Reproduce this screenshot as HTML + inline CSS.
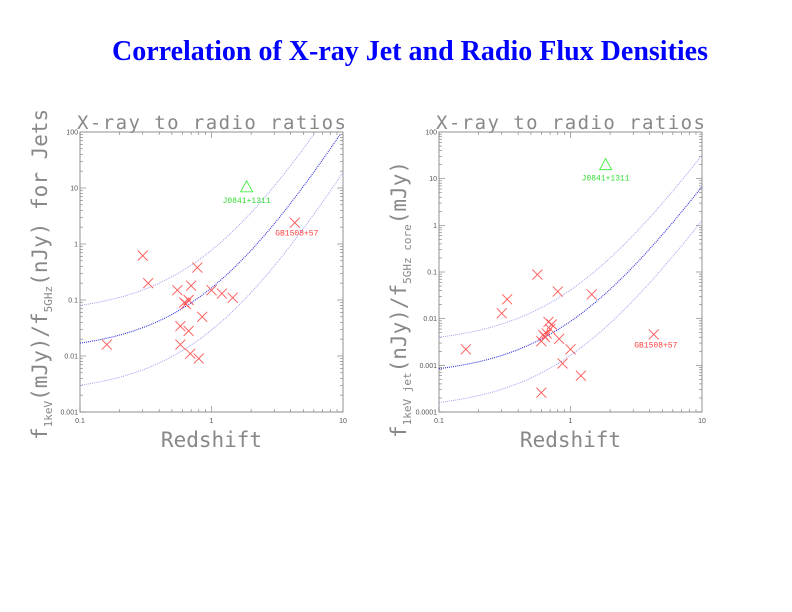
<!DOCTYPE html>
<html><head><meta charset="utf-8"><style>
body{margin:0;background:#fff;width:792px;height:612px;overflow:hidden}
svg{position:absolute;left:0;top:0}
</style></head><body>
<svg id="s" width="792" height="612">
<text x="410" y="60" text-anchor="middle" font-family="Liberation Serif, serif" font-weight="bold" font-size="28" fill="#0000ff">Correlation of X-ray Jet and Radio Flux Densities</text>
</svg>
<script>
const leftX=[0.16,0.30,0.33,0.55,0.58,0.58,0.62,0.64,0.67,0.67,0.69,0.70,0.78,0.80,0.85,1.0,1.2,1.45,4.3];
const leftY=[0.016,0.62,0.2,0.15,0.034,0.016,0.09,0.085,0.1,0.028,0.011,0.18,0.38,0.009,0.05,0.15,0.13,0.11,2.4];
const rightX=[0.16,0.30,0.33,0.56,0.60,0.60,0.62,0.64,0.66,0.68,0.70,0.72,0.80,0.82,0.87,1.0,1.2,1.45,4.3];
const rightY=[0.0022,0.013,0.026,0.088,0.0033,0.00026,0.0045,0.0040,0.0048,0.0085,0.006,0.0075,0.038,0.0037,0.0011,0.0022,0.0006,0.033,0.0046];
const leftTri=[1.85,10.5];
const rightTri=[1.85,20];
const leftCurveNorm=[0.08,0.017,0.003];
const rightCurveNorm=[0.004,0.00085,0.00016];
const leftExp=3.8, rightExp=3.9;
const ns='http://www.w3.org/2000/svg';
const svg=document.getElementById('s');
function mk(t,a,p){const e=document.createElementNS(ns,t);for(const k in a)e.setAttribute(k,a[k]);(p||svg).appendChild(e);return e;}
function panel(id,x0,x1,y0,y1,ymin,ymax,xs,ys,tri,norms,ex,ylab,ylabAnchor){
 const g=mk('g',{});
 
 
 const lx=v=>x0+(Math.log10(v)+1)/2*(x1-x0);
 const ly=v=>y1-(Math.log10(v)-Math.log10(ymin))/(Math.log10(ymax)-Math.log10(ymin))*(y1-y0);
 const box=mk('rect',{x:x0,y:y0,width:x1-x0,height:y1-y0,fill:'none',stroke:'#777','stroke-width':0.8},g);
 
 
 for(let d=-1;d<1;d++)for(let m=1;m<10;m++){const v=m*Math.pow(10,d);const X=lx(v);const L=m==1?6:3;
  mk('line',{x1:X,x2:X,y1:y1,y2:y1-L,stroke:'#777','stroke-width':0.6},g);mk('line',{x1:X,x2:X,y1:y0,y2:y0+L,stroke:'#777','stroke-width':0.6},g);}
 ['0.1','1','10'].forEach((t,i)=>{const e=mk('text',{x:lx(Math.pow(10,i-1)),y:y1+11,'text-anchor':'middle','font-family':'Liberation Sans, sans-serif','font-size':7,fill:'#555'},g);e.textContent=t;
  });
 const e0=Math.round(Math.log10(ymin)),e1=Math.round(Math.log10(ymax));
 for(let d=e0;d<e1;d++)for(let m=1;m<10;m++){const Y=ly(m*Math.pow(10,d));const L=m==1?6:3;
  mk('line',{x1:x0,x2:x0+L,y1:Y,y2:Y,stroke:'#777','stroke-width':0.6},g);mk('line',{x1:x1,x2:x1-L,y1:Y,y2:Y,stroke:'#777','stroke-width':0.6},g);}
 for(let d=e0;d<=e1;d++){const v=Math.pow(10,d);const t=d<0?v.toFixed(-d):String(v);
  const e=mk('text',{x:x0-2,y:ly(v)+2.5,'text-anchor':'end','font-family':'Liberation Sans, sans-serif','font-size':7,fill:'#555'},g);e.textContent=t;
  }
 norms.forEach((n,i)=>{let d='';for(let k=0;k<=100;k++){const z=Math.pow(10,-1+2*k/100);const v=n*Math.pow((1+z)/1.1,ex);if(v>ymax*1.0001)break;d+=(k?'L':'M')+lx(z).toFixed(1)+','+ly(v).toFixed(1);}
  const p=mk('path',{d:d,fill:'none',stroke:i==1?'#3333dd':'#9999ee','stroke-width':i==1?1.1:0.9,'stroke-dasharray':'1 1'},g);
  });
 xs.forEach((x,i)=>{const X=lx(x),Y=ly(ys[i]);const m=mk('path',{d:`M${X-5},${Y-5}L${X+5},${Y+5}M${X-5},${Y+5}L${X+5},${Y-5}`,stroke:'#ff5555','stroke-width':0.9,fill:'none'},g);
  });
 const TX=lx(tri[0]),TY=ly(tri[1]);
 const tr=mk('path',{d:`M${TX},${TY-6}L${TX+6},${TY+5}L${TX-6},${TY+5}Z`,fill:'none',stroke:'#44ee44','stroke-width':0.9},g);
 
 const t1=mk('text',{x:TX,y:TY+16,'text-anchor':'middle','font-family':'Liberation Mono, monospace','font-size':8,fill:'#33dd33'},g);t1.textContent='J0841+1311';
 
 const GX=lx(xs[18]),GY=ly(ys[18]);
 const t2=mk('text',{x:GX+2,y:GY+13,'text-anchor':'middle','font-family':'Liberation Mono, monospace','font-size':8,fill:'#ff4444'},g);t2.textContent='GB1508+57';
 
 const st=mk('text',{x:(x0+x1)/2,y:y0-3,'text-anchor':'middle','font-family':'DejaVu Sans Mono, monospace','font-size':19,fill:'#888',textLength:x1-x0+6},g);st.textContent='X-ray to radio ratios';
 
 const xl=mk('text',{x:(x0+x1)/2,y:y1+35,'text-anchor':'middle','font-family':'DejaVu Sans Mono, monospace','font-size':21,fill:'#888'},g);xl.textContent='Redshift';
 
 const yl=mk('text',{x:0,y:0,transform:`translate(${x0-33},${ylabAnchor}) rotate(-90)`,'text-anchor':'start','font-family':'DejaVu Sans Mono, monospace','font-size':21,fill:'#888'},g);
 yl.innerHTML=ylab;
 
}
panel('left',80,343,132,412,0.001,100,leftX,leftY,leftTri,leftCurveNorm,leftExp,
 'f<tspan font-size="11" dy="5">1keV</tspan><tspan dy="-5">(mJy)/f</tspan><tspan font-size="11" dy="5">5GHz</tspan><tspan dy="-5">(nJy) for Jets</tspan>',440);
panel('right',439,702,132,412,0.0001,100,rightX,rightY,rightTri,rightCurveNorm,rightExp,
 'f<tspan font-size="11" dy="5">1keV jet</tspan><tspan dy="-5">(nJy)/f</tspan><tspan font-size="11" dy="5">5GHz core</tspan><tspan dy="-5">(mJy)</tspan>',438);
</script>
</body></html>
